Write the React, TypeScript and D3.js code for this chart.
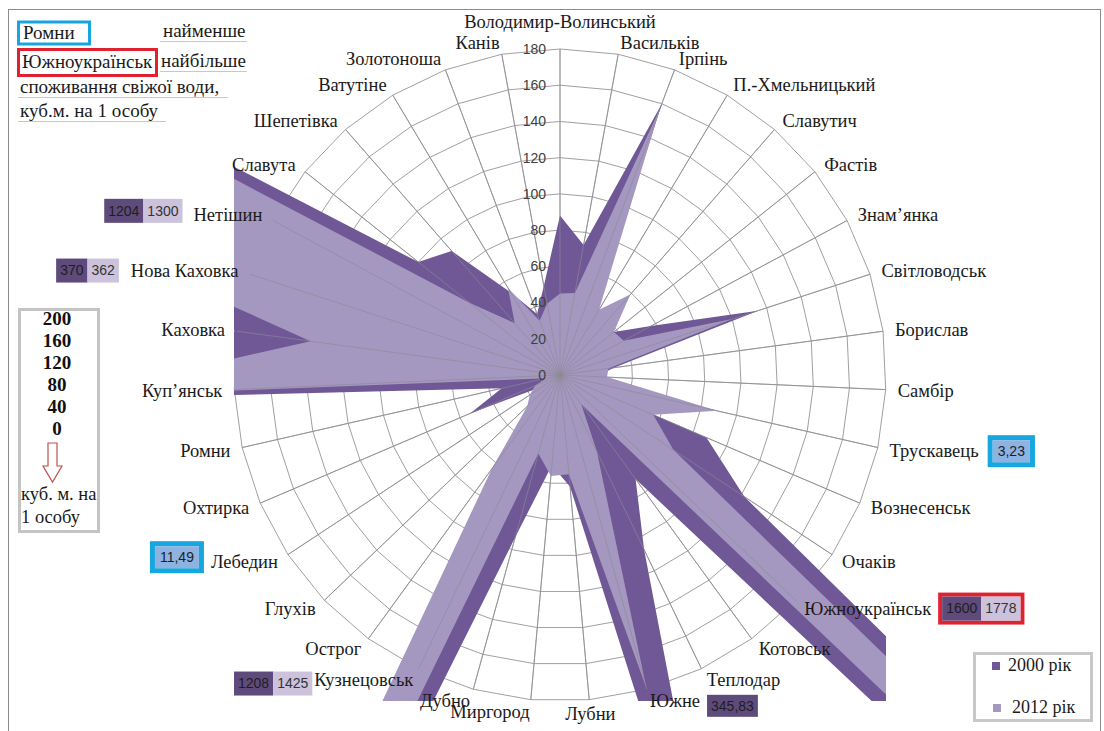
import React from 'react';
import * as d3 from 'd3';

const categories = [
  'Володимир-Волинський', 'Васильків', 'Ірпінь', 'П.-Хмельницький', 'Славутич', 'Фастів',
  'Знам’янка', 'Світловодськ', 'Борислав', 'Самбір', 'Трускавець', 'Вознесенськ', 'Очаків',
  'Южноукраїнськ', 'Котовськ', 'Теплодар', 'Южне', 'Лубни', 'Миргород', 'Дубно', 'Кузнецовськ',
  'Острог', 'Глухів', 'Лебедин', 'Охтирка', 'Ромни', 'Куп’янськ', 'Каховка', 'Нова Каховка',
  'Нетішин', 'Славута', 'Шепетівка', 'Ватутіне', 'Золотоноша', 'Канів',
];

const values2000 = [
  88, 73, 160, 35, 40, 38, 57, 115, 30, 20, 3.23, 88, 122, 1600, 71, 107, 345.83, 62, 50, 93,
  1208, 40, 20, 11.49, 54, 33, 334, 181, 370, 1204, 100, 91, 53, 36, 50,
];

const values2012 = [
  45, 46, 157, 42, 59, 38, 40, 100, 27, 26, 89, 56, 75, 1778, 20, 47, 179, 55, 56, 45,
  1425, 64, 25, 20, 15, 8, 276, 139, 362, 1300, 64, 38, 56, 32, 40,
];

const seriesNames = ['2000 рік', '2012 рік'];
const radialTicks = [0, 20, 40, 60, 80, 100, 120, 140, 160, 180];
const scaleNoteTicks = ['200', '160', '120', '80', '40', '0'];

const pairLabelCats = ['Нетішин', 'Нова Каховка', 'Кузнецовськ', 'Южноукраїнськ'];
const pairLabel2000 = ['1204', '370', '1208', '1600'];
const pairLabel2012 = ['1300', '362', '1425', '1778'];
const singleLabelCats = ['Южне', 'Трускавець', 'Лебедин'];
const singleLabelTexts = ['345,83', '3,23', '11,49'];

// layout of the value-label boxes (gap to the category name, vertical nudge)
const boxLayout: Record<string, { gap: number; dy: number }> = {
  'Нетішин': { gap: 11, dy: -4 },
  'Нова Каховка': { gap: 12, dy: 0 },
  'Кузнецовськ': { gap: 2, dy: 4 },
  'Южноукраїнськ': { gap: 7, dy: 0 },
  'Южне': { gap: 7, dy: 5 },
  'Трускавець': { gap: 9, dy: 1 },
  'Лебедин': { gap: 7, dy: -4 },
};

const DARK = '#705897';
const LIGHT = '#a598c0';
const DARK_BOX = '#5f4a7c';
const LIGHT_BOX = '#ccc2dc';
const BLUE = '#16a6e0';
const RED = '#e0212f';

const W = 1104;
const H = 731;
const cx = 560;
const cy = 375;
const R = 326;
const N = categories.length;

const CAT_SIZE = 18.5;
const catFont = `${CAT_SIZE}px "Liberation Serif"`;
const numFont = '14px "Liberation Sans"';

let ctx: CanvasRenderingContext2D | null = null;
function textWidth(t: string, font: string) {
  if (!ctx) ctx = document.createElement('canvas').getContext('2d');
  if (!ctx) return t.length * 8;
  ctx.font = font;
  return ctx.measureText(t).width;
}

export default function App() {
  const r = d3.scaleLinear().domain([0, 180]).range([0, R]);
  const angle = d3.scaleLinear().domain([0, N]).range([0, 2 * Math.PI]);
  const pt = (i: number, v: number): [number, number] => {
    const a = angle(i);
    return [cx + r(v) * Math.sin(a), cy - r(v) * Math.cos(a)];
  };
  const poly = (vals: number[]) =>
    d3.line<number>().x((v, i) => pt(i, v)[0]).y((v, i) => pt(i, v)[1]).curve(d3.curveLinearClosed)(vals) || '';

  const labelInfo = categories.map((name, i) => {
    const a = angle(i);
    const s = Math.sin(a);
    const c = Math.cos(a);
    const rr = R + 12;
    const x = cx + rr * s;
    let y = cy - rr * c;
    const anchor = s > 0.1 ? 'start' : s < -0.05 ? 'end' : 'middle';
    if (anchor === 'middle' && c > 0) y -= c * 15;
    if (anchor === 'middle' && c < 0) y += 2;
    const w = textWidth(name, catFont);
    const left = anchor === 'start' ? x : anchor === 'end' ? x - w : x - w / 2;
    return { name, x, y, anchor, left, right: left + w };
  });

  const boxH = 24;
  const cellW = (t: string) => textWidth(t, numFont) + 8;

  return (
    <svg width={W} height={H} style={{ position: 'absolute', left: 0, top: 0, background: '#fff' }}
      fontFamily='"Liberation Serif", serif'>
      <defs>
        <clipPath id="plotClip">
          <rect x={cx - R} y={cy - R} width={2 * R} height={2 * R} />
        </clipPath>
      </defs>
      <rect x={8.5} y={9.5} width={1092} height={740} fill="none" stroke="#8c8c8c" strokeWidth={1} />

      {/* grid */}
      {radialTicks.slice(1).map((t) => (
        <path key={t} d={poly(categories.map(() => t))} fill="none" stroke="#a0a0a0" strokeWidth={1} />
      ))}
      {categories.map((c, i) => {
        const [x, y] = pt(i, 180);
        return <line key={'s' + i} x1={cx} y1={cy} x2={x} y2={y} stroke="#a0a0a0" strokeWidth={1} />;
      })}

      {/* series */}
      <g clipPath="url(#plotClip)">
        <path d={poly(values2000)} fill={DARK} />
        <path d={poly(values2012)} fill={LIGHT} />
      </g>
      {categories.map((c, i) => {
        const [x, y] = pt(i, 180);
        return <line key={'o' + i} x1={cx} y1={cy} x2={x} y2={y} stroke="#8e8a96" strokeWidth={0.8} opacity={0.8} />;
      })}

      {/* radial tick labels */}
      {radialTicks.map((t) => (
        <text key={'t' + t} x={cx - 14} y={cy - r(t)} dy="0.35em" textAnchor="end"
          fontFamily='"Liberation Sans", sans-serif' fontSize={14} fill="#404040">{t}</text>
      ))}

      {/* category labels */}
      {labelInfo.map((l) => (
        <text key={l.name} x={l.x} y={l.y} dy="0.35em" textAnchor={l.anchor as any}
          fontSize={CAT_SIZE} fill="#1a1a1a">{l.name}</text>
      ))}

      {/* paired value labels */}
      {pairLabelCats.map((cat, k) => {
        const l = labelInfo[categories.indexOf(cat)];
        const lay = boxLayout[cat];
        const w1 = cellW(pairLabel2000[k]);
        const w2 = cellW(pairLabel2012[k]);
        const framed = cat === 'Южноукраїнськ';
        const pad = framed ? 4 : 0;
        const total = w1 + w2 + 2 * pad;
        const x0 = l.anchor === 'end' ? l.left - lay.gap - total : l.right + lay.gap;
        const y0 = l.y + lay.dy - boxH / 2 - pad;
        return (
          <g key={cat}>
            {framed && <rect x={x0 + 2} y={y0 + 2} width={total - 4} height={boxH + 2 * pad - 4} fill="none" stroke={RED} strokeWidth={4} />}
            <rect x={x0 + pad} y={y0 + pad} width={w1} height={boxH} fill={DARK_BOX} />
            <rect x={x0 + pad + w1} y={y0 + pad} width={w2} height={boxH} fill={LIGHT_BOX} />
            <text x={x0 + pad + w1 / 2} y={y0 + pad + boxH / 2} dy="0.35em" textAnchor="middle"
              fontFamily='"Liberation Sans", sans-serif' fontSize={14} fill="#1e1e1e">{pairLabel2000[k]}</text>
            <text x={x0 + pad + w1 + w2 / 2} y={y0 + pad + boxH / 2} dy="0.35em" textAnchor="middle"
              fontFamily='"Liberation Sans", sans-serif' fontSize={14} fill="#333">{pairLabel2012[k]}</text>
          </g>
        );
      })}

      {/* single value labels */}
      {singleLabelCats.map((cat, k) => {
        const l = labelInfo[categories.indexOf(cat)];
        const lay = boxLayout[cat];
        const blue = cat !== 'Южне';
        const pad = blue ? 5 : 0;
        const w = cellW(singleLabelTexts[k]) + (blue ? 2 : 0);
        const total = w + 2 * pad;
        const x0 = l.anchor === 'end' ? l.left - lay.gap - total : l.right + lay.gap;
        const y0 = l.y + lay.dy - (boxH - 2) / 2 - pad;
        const h = boxH - 2;
        return (
          <g key={cat}>
            {blue && <rect x={x0 + 2.5} y={y0 + 2.5} width={total - 5} height={h + 2 * pad - 5} fill="none" stroke={BLUE} strokeWidth={5} />}
            <rect x={x0 + pad} y={y0 + pad} width={w} height={h} fill={blue ? '#8db3e2' : DARK_BOX} />
            <text x={x0 + pad + w / 2} y={y0 + pad + h / 2} dy="0.35em" textAnchor="middle"
              fontFamily='"Liberation Sans", sans-serif' fontSize={14} fill="#1e1e1e">{singleLabelTexts[k]}</text>
          </g>
        );
      })}

      {/* top-left note */}
      <rect x={18.5} y={22} width={71} height={22} fill="none" stroke={BLUE} strokeWidth={3} />
      <text x={23} y={39} fontSize={19} fill="#1a1a1a">Ромни</text>
      <text x={163} y={37} fontSize={19} fill="#1a1a1a">найменше</text>
      <line x1={160} x2={247} y1={41.5} y2={41.5} stroke="#c8c8c8" />
      <rect x={18.5} y={49.5} width={138} height={26} fill="none" stroke={RED} strokeWidth={3} />
      <text x={22} y={68} fontSize={19} fill="#1a1a1a">Южноукраїнськ</text>
      <text x={161} y={67} fontSize={19} fill="#1a1a1a">найбільше</text>
      <line x1={160} x2={247} y1={71.5} y2={71.5} stroke="#c8c8c8" />
      <text x={20} y={93} fontSize={19} fill="#1a1a1a">споживання свіжої води,</text>
      <line x1={18} x2={228} y1={97.5} y2={97.5} stroke="#c8c8c8" />
      <text x={20} y={117} fontSize={19} fill="#1a1a1a">куб.м. на 1 особу</text>
      <line x1={18} x2={166} y1={121.5} y2={121.5} stroke="#c8c8c8" />

      {/* left scale note */}
      <rect x={19.5} y={309.5} width={79} height={222} fill="none" stroke="#c4c4c4" strokeWidth={3} />
      {scaleNoteTicks.map((t, k) => (
        <text key={'n' + t} x={57} y={318 + k * 22} dy="0.35em" textAnchor="middle" fontSize={19}
          fontWeight="bold" fill="#111">{t}</text>
      ))}
      <path d="M48,443 L57,443 L57,466 L62,466 L52.5,482 L43,466 L48,466 Z" fill="#fff" stroke="#c0504d" strokeWidth={1.2} />
      <text x={21} y={500} fontSize={18.5} fill="#1a1a1a">куб. м. на</text>
      <text x={21} y={523} fontSize={18.5} fill="#1a1a1a">1 особу</text>

      {/* legend */}
      <rect x={974.5} y={653.5} width={117} height={67} fill="none" stroke="#c8c8c8" strokeWidth={3} />
      <rect x={992} y={662} width={8} height={8} fill={DARK} />
      <text x={1008} y={671} fontSize={18} fill="#1a1a1a">{seriesNames[0]}</text>
      <rect x={993} y={704} width={8} height={8} fill={LIGHT} />
      <text x={1012} y={713} fontSize={18} fill="#1a1a1a">{seriesNames[1]}</text>
    </svg>
  );
}
